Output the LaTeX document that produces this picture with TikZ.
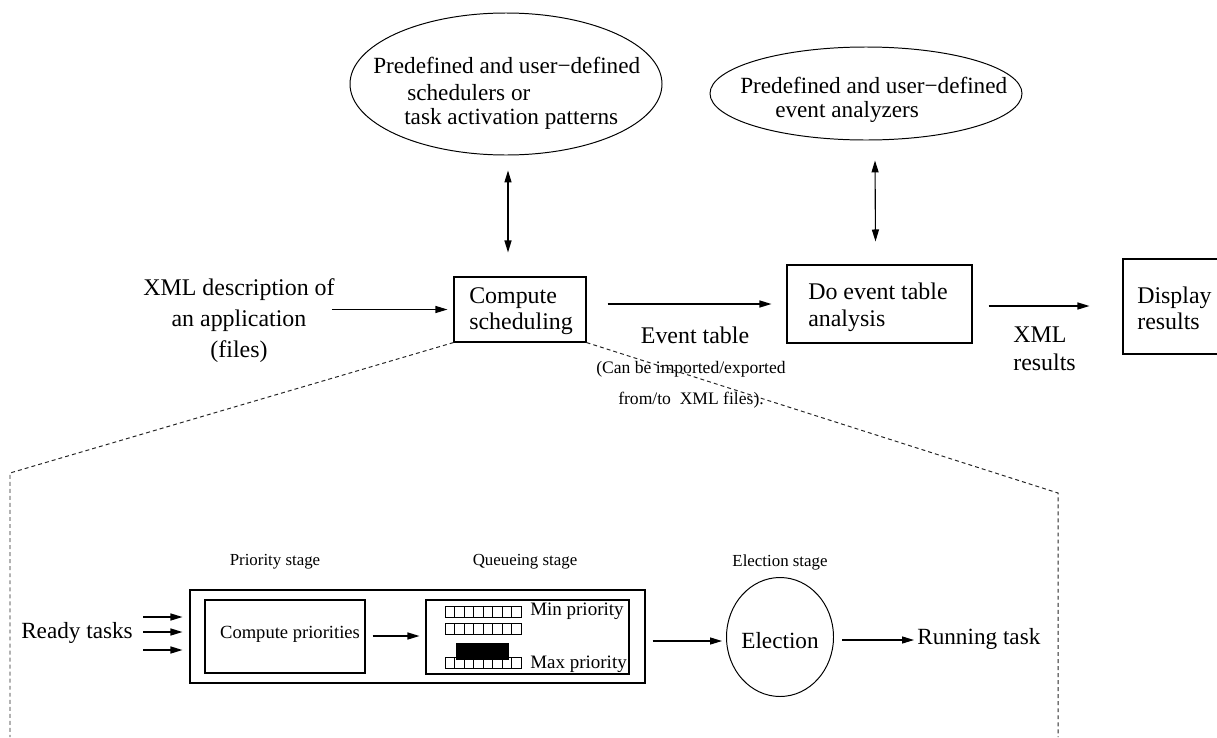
\documentclass[tikz,border=0pt]{standalone}
\usepackage{fontspec}
\setmainfont{Liberation Serif}
\usetikzlibrary{shapes.geometric,arrows.meta,calc,fit}
\begin{document}
\begin{tikzpicture}[x=0.025cm,y=-0.025cm,
  tip/.tip={Triangle[length=8.5pt,width=5pt]},
  arr/.style={-tip, line width=0.8pt},
  dbl/.style={tip-tip, line width=0.8pt},
  frame/.style={draw, line width=0.8pt, inner sep=0pt},
  oval/.style={draw, ellipse, line width=0.7pt, inner sep=0pt},
  lbl/.style={inner sep=0pt},
  big/.style={font=\fontsize{17}{22}\selectfont},
  boxt/.style={font=\fontsize{17}{18.5}\selectfont, align=left},
  mid/.style={font=\fontsize{16.5}{19}\selectfont},
  note/.style={font=\fontsize{12.5}{22}\selectfont},
  stage/.style={font=\fontsize{12}{14}\selectfont},
  inner/.style={font=\fontsize{13.5}{16}\selectfont},
  zoomline/.style={dash pattern=on 2.8pt off 2.2pt, line width=0.7pt, black!85}]
\useasboundingbox (0,0) rectangle (1217,737);

% --- upper flow: scheduling and analysis ---
\node[oval, minimum width=312*0.025cm, minimum height=142*0.025cm] (sched) at (506,84) {};
\node[lbl, mid, anchor=west] (s1) at (373,65) {Predefined and user−defined};
\node[lbl, mid, anchor=west] (s2) at (407,93) {schedulers or};
\node[lbl, mid, anchor=west] (s3) at (404,119) {task activation patterns};

\node[oval, minimum width=312*0.025cm, minimum height=93*0.025cm] (anal) at (866,93.5) {};
\node[lbl, mid, anchor=west] (a1) at (740,85) {Predefined and user−defined};
\node[lbl, mid, anchor=west] (a2) at (775,112) {event analyzers};

\node[lbl, big, align=center] (xml) at (239,321) {XML description of\\an application\\(files)};

\node[frame, fit={(454,277) (586,342)}] (cs) {};
\node[lbl, boxt, anchor=west] (cst) at (469,311) {Compute\\scheduling};

\node[frame, fit={(787,265) (972,343)}] (doet) {};
\node[lbl, boxt, font=\fontsize{17}{19.5}\selectfont, anchor=west] (doett) at (808,307) {Do event table\\analysis};

\node[frame, fit={(1123,259) (1250,354)}] (disp) {};
\node[lbl, boxt, anchor=west] (dispt) at (1137,308) {Display\\results};

\node[lbl, big] (evt) at (695,335) {Event table};
\node[lbl, note, align=center] (evn) at (691,385) {(Can be imported/exported\\from/to\ \ XML files).};
\node[lbl, boxt, font=\fontsize{17}{20}\selectfont, anchor=west] (xres) at (1013,349) {XML\\results};

\draw[dbl] ($(sched.south)+(2,15)$) -- ($(cs.north)+(-12,-24)$);
\draw[dbl] ($(anal.south)+(9,20)$) -- ($(doet.north)+(-4,-23)$);
\draw[arr] ($(xml.east |- cs.west)+(-3,0)$) -- ($(cs.west)+(-6,0)$);
\draw[arr] ($(cs.east |- doet.west)+(21,0)$) -- ($(doet.west)+(-15,0)$);
\draw[arr] ($(doet.east |- 0,306)+(16,0)$) -- ($(disp.west |- 0,306)+(-33,0)$);

% --- zoomed view of the scheduler ---
\coordinate (zl1) at (10,473);
\coordinate (zl2) at (10,737);
\coordinate (zr1) at (1058,493);
\coordinate (zr2) at (1058,737);
\draw[zoomline] (cs.south west) -- (zl1) -- (zl2);
\draw[zoomline] (cs.south east) -- (zr1) -- (zr2);

\node[lbl, stage] (ps) at (275,562) {Priority stage};
\node[lbl, stage] (qs) at (525,562) {Queueing stage};
\node[lbl, stage] (es) at (780,562) {Election stage};

\node[frame, fit={(190,590) (645,683)}] (outer) {};
\node[frame, fit={(205,600) (365,673)}] (cp) {};
\node[lbl, font=\fontsize{13.2}{15}\selectfont] (cpt) at (290,634) {Compute priorities};
\node[frame, fit={(426,600) (629,674)}] (queue) {};

% queue rows
\foreach \r in {606,623,657}
  \foreach \i in {0,...,7}
    \draw[line width=0.6pt] (445+\i*9.5,\r) rectangle ++(9.5,11.5);
\fill (456,643) rectangle (509,660);
\node[lbl, inner, anchor=west] (minp) at (530,611) {Min priority};
\node[lbl, inner, anchor=west] (maxp) at (530,664) {Max priority};

\node[oval, minimum width=107*0.025cm, minimum height=119*0.025cm] (elect) at (780,637) {};
\node[lbl, mid] (electt) at (780,641) {Election};

\node[lbl, mid] (rt) at (77,633) {Ready tasks};
\node[lbl, mid, anchor=west] (run) at (917,639) {Running task};

\foreach \dy in {-16,-1,17}
  \draw[arr] ($(rt.east)+(10,\dy)$) -- ($(outer.west |- rt.east)+(-7,\dy)$);
\draw[arr] ($(cp.east |- 0,636)+(7,0)$) -- ($(queue.west |- 0,636)+(-6,0)$);
\draw[arr] ($(outer.east |- 0,641)+(7,0)$) -- ($(elect.west |- 0,641)+(-4,0)$);
\draw[arr] ($(elect.east |- 0,640)+(8,0)$) -- ($(run.west |- 0,640)+(-3,0)$);
\end{tikzpicture}
\end{document}
